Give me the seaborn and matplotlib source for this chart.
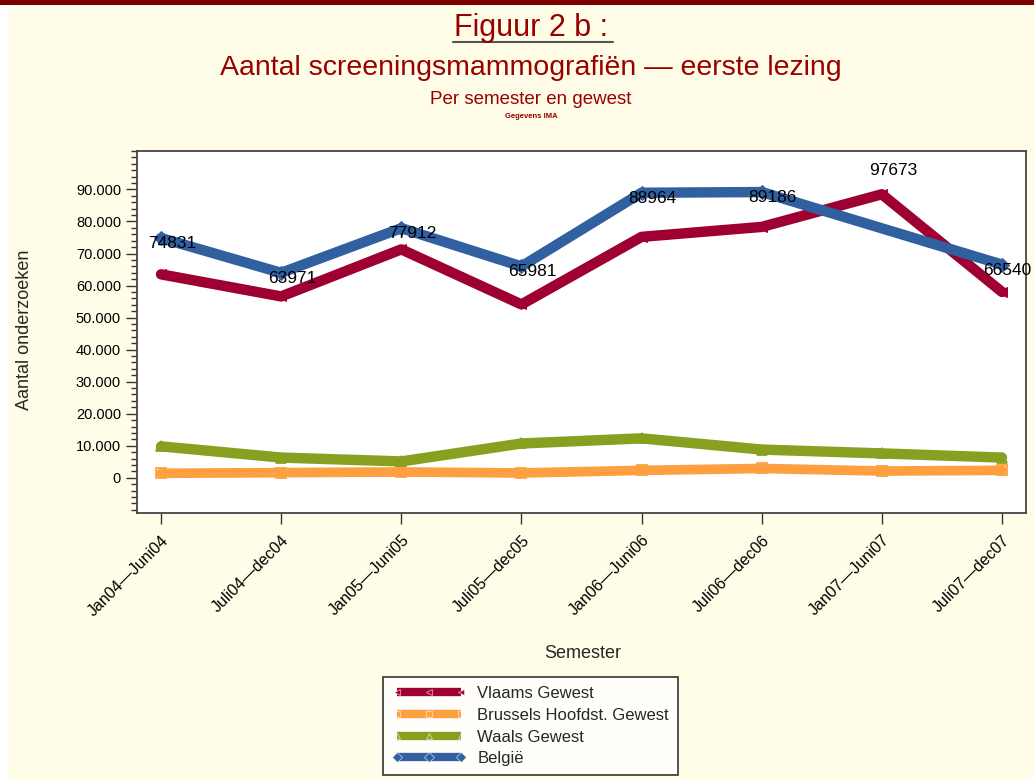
import matplotlib
matplotlib.use("Agg")
import matplotlib.pyplot as plt
from matplotlib.patches import Rectangle
from matplotlib.lines import Line2D
from matplotlib.ticker import MultipleLocator, FuncFormatter
import seaborn as sns
import pandas as pd
import numpy as np

semesters = ["Jan04—Juni04", "Juli04—dec04", "Jan05—Juni05", "Juli05—dec05",
             "Jan06—Juni06", "Juli06—dec06", "Jan07—Juni07", "Juli07—dec07"]
vlaams = [63500, 56600, 71300, 54100, 75200, 78300, 88500, 58000]
brussel = [1400, 1600, 1800, 1500, 2300, 2900, 2100, 2300]
waals = [9800, 6300, 5100, 10700, 12300, 8800, 7600, 6300]
belgie = [74831, 63971, 77912, 65981, 88964, 89186, 97673, 66540]
belgie_line_missing = ["Jan07—Juni07"]  # value absent from the België line

series_names = ["Vlaams Gewest", "Brussels Hoofdst. Gewest", "Waals Gewest", "België"]
colors = ["#9E0032", "#FFA040", "#88A020", "#3060A0"]

rows = []
for name, vals in zip(series_names, [vlaams, brussel, waals, belgie]):
    for s, v in zip(semesters, vals):
        if name == "België" and s in belgie_line_missing:
            continue
        rows.append({"Semester": s, "Aantal": v, "Gewest": name})
df = pd.DataFrame(rows)

sns.set_theme(style="white")
plt.rcParams["font.family"] = ["Liberation Sans", "DejaVu Sans"]

bg = "#FFFDE7"
title_col = "#990000"
fig = plt.figure(figsize=(10.34, 7.8), dpi=100, facecolor=bg)
fig.patches.append(Rectangle((0, 0), 9 / 1034, 1, transform=fig.transFigure,
                             facecolor="white", edgecolor="none", zorder=0))
fig.patches.append(Rectangle((0, 1 - 5 / 780), 1, 5 / 780, transform=fig.transFigure,
                             facecolor="#7A0000", edgecolor="none", zorder=0))

ax = fig.add_axes([137 / 1034, 1 - 513 / 780, (1026 - 137) / 1034, (513 - 151) / 780])
ax.set_facecolor("white")

sns.lineplot(data=df, x="Semester", y="Aantal", hue="Gewest", hue_order=series_names,
             palette=colors, style="Gewest", style_order=series_names,
             markers={"Vlaams Gewest": "<", "Brussels Hoofdst. Gewest": "s",
                      "Waals Gewest": "^", "België": "D"},
             dashes=False, linewidth=7.5, markersize=7, sort=False, ax=ax, legend=True)


def style_line(ln, name, c):
    ln.set_markeredgecolor(c)
    if name in ("Brussels Hoofdst. Gewest", "Waals Gewest"):
        ln.set_markerfacecolor("none")
        ln.set_markeredgewidth(1.3)
    else:
        ln.set_markerfacecolor(c)


for ln, name, c in zip(ax.lines, series_names, colors):
    style_line(ln, name, c)
    if name == "Brussels Hoofdst. Gewest":
        ln.set_linewidth(7)

n = len(belgie)
for i, v in enumerate(belgie):
    dx = 8 if i < n - 1 else 4
    ax.annotate(f"{v}", (i, v), xytext=(dx, -4), textcoords="offset points",
                ha="center", va="center", fontsize=12.5, color="black", zorder=10)

ax.set_xlim(-0.2, 7.2)
ax.set_ylim(-11000, 102000)
ax.set_yticks(np.arange(0, 90001, 10000))
ax.yaxis.set_minor_locator(MultipleLocator(2000))
ax.yaxis.set_major_formatter(FuncFormatter(lambda v, p: "0" if v == 0 else f"{int(v):,}".replace(",", ".")))
ax.set_xticks(range(len(semesters)))
ax.set_xticklabels(semesters, rotation=45, ha="right", rotation_mode="anchor", fontsize=11.5)
ax.tick_params(axis="x", which="major", direction="out", length=8, width=1, colors="#333333",
               labelcolor="black", bottom=True, pad=6)
ax.tick_params(axis="y", which="major", direction="out", length=8, width=1, colors="#333333",
               labelcolor="black", left=True, labelsize=10.5)
ax.tick_params(axis="y", which="minor", direction="out", length=4, width=1, colors="#333333", left=True)
for sp in ax.spines.values():
    sp.set_color("#444444")
    sp.set_linewidth(1.3)

ax.set_xlabel("Semester", fontsize=13)
ax.set_ylabel("Aantal onderzoeken", fontsize=13)
ax.xaxis.set_label_coords((583 - 137) / (1026 - 137), -(645 - 513) / (513 - 151))
ax.yaxis.set_label_coords(-(137 - 33) / (1026 - 137), (513 - 330) / (513 - 151))

handles, labels = ax.get_legend_handles_labels()
ax.get_legend().remove()
leg = fig.legend(handles, labels, loc="upper left",
                 bbox_to_anchor=(383 / 1034, 1 - 677 / 780), bbox_transform=fig.transFigure,
                 frameon=True, fancybox=False, edgecolor="black", facecolor="white",
                 fontsize=12, handlelength=4.4, numpoints=3, labelspacing=0.4,
                 borderpad=0.55, handletextpad=0.7, borderaxespad=0)
leg.get_frame().set_linewidth(1.2)
for h, name, c in zip(leg.legend_handles, series_names, colors):
    h.set_linewidth(6)
    h.set_solid_capstyle("butt")
    h.set_markersize(5)
    style_line(h, name, c)
    h.set_markeredgecolor("#FFFFFF80")
    h.set_markeredgewidth(0.8)

cx = 531 / 1034
fig.text(cx, 1 - 28 / 780, "Figuur 2 b :", ha="center", va="center", fontsize=22, color=title_col)
fig.add_artist(Line2D([453 / 1034, 613 / 1034], [1 - 42 / 780, 1 - 42 / 780],
                      transform=fig.transFigure, color="#555555", linewidth=1.5))
fig.text(cx, 1 - 68 / 780, "Aantal screeningsmammografiën — eerste lezing", ha="center",
         va="center", fontsize=20.5, color=title_col)
fig.text(cx, 1 - 100 / 780, "Per semester en gewest", ha="center", va="center",
         fontsize=13.5, color=title_col)
fig.text(cx, 1 - 116 / 780, "Gegevens IMA", ha="center", va="center",
         fontsize=5.5, color=title_col, fontweight="bold")

fig.savefig("out.png", dpi=100, facecolor=bg)
